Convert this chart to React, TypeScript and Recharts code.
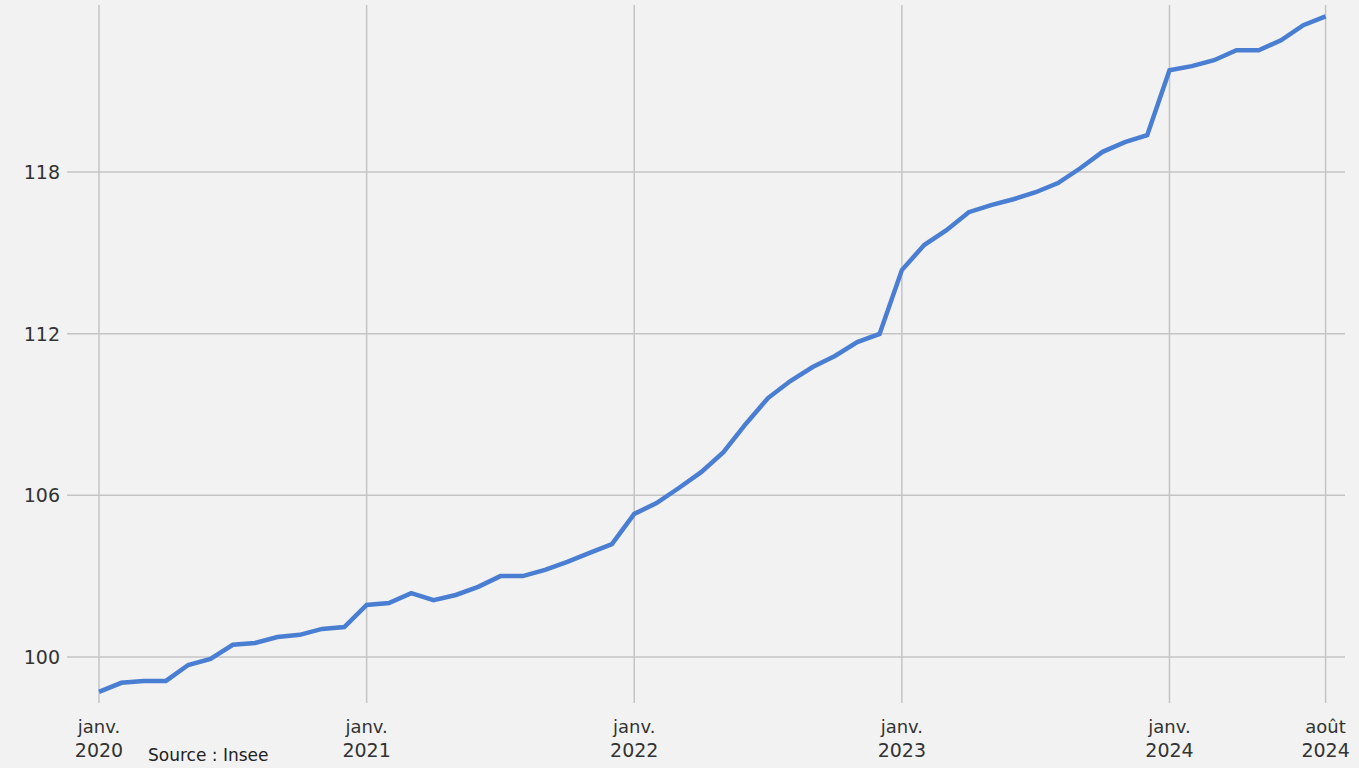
import React from "react";
import { LineChart, Line, XAxis, YAxis, CartesianGrid } from "recharts";

const months: string[] = [
  "2020-01","2020-02","2020-03","2020-04","2020-05","2020-06","2020-07","2020-08","2020-09","2020-10","2020-11","2020-12",
  "2021-01","2021-02","2021-03","2021-04","2021-05","2021-06","2021-07","2021-08","2021-09","2021-10","2021-11","2021-12",
  "2022-01","2022-02","2022-03","2022-04","2022-05","2022-06","2022-07","2022-08","2022-09","2022-10","2022-11","2022-12",
  "2023-01","2023-02","2023-03","2023-04","2023-05","2023-06","2023-07","2023-08","2023-09","2023-10","2023-11","2023-12",
  "2024-01","2024-02","2024-03","2024-04","2024-05","2024-06","2024-07","2024-08",
];

const indexValues: number[] = [
  98.70, 99.04, 99.11, 99.11, 99.70, 99.93, 100.45, 100.52, 100.74, 100.82, 101.04, 101.11,
  101.93, 102.00, 102.37, 102.11, 102.30, 102.60, 103.00, 103.00, 103.23, 103.53, 103.86, 104.19,
  105.31, 105.71, 106.27, 106.86, 107.60, 108.65, 109.61, 110.24, 110.76, 111.17, 111.69, 111.99,
  114.36, 115.29, 115.84, 116.51, 116.77, 116.99, 117.25, 117.59, 118.14, 118.75, 119.11, 119.37,
  121.78, 121.93, 122.15, 122.52, 122.52, 122.89, 123.45, 123.78,
];

const xTickIndexes: number[] = [0, 12, 24, 36, 48, 55];
const xTickLabels: string[][] = [
  ["janv.", "2020"],
  ["janv.", "2021"],
  ["janv.", "2022"],
  ["janv.", "2023"],
  ["janv.", "2024"],
  ["août", "2024"],
];
const yTicks: number[] = [100, 106, 112, 118];

const data = months.map((m, i) => ({ i, month: m, value: indexValues[i] }));

const FONT = "'DejaVu Sans', 'Open Sans', sans-serif";

const XTick = (props: any) => {
  const { x, payload } = props;
  const k = xTickIndexes.indexOf(payload.value);
  const lines = k >= 0 ? xTickLabels[k] : ["", ""];
  return (
    <g>
      <text x={x} y={733} textAnchor="middle" fontFamily={FONT} fontSize={18} fill="#333">
        {lines[0]}
      </text>
      <text x={x} y={757} textAnchor="middle" fontFamily={FONT} fontSize={19} fill="#333">
        {lines[1]}
      </text>
    </g>
  );
};

const YTick = (props: any) => {
  const { y, payload } = props;
  return (
    <text x={60} y={y + 7} textAnchor="end" fontFamily={FONT} fontSize={19} fill="#333">
      {payload.value}
    </text>
  );
};

export default function App() {
  return (
    <div style={{ position: "absolute", left: 0, top: 0, width: 1359, height: 768, overflow: "hidden", background: "#f2f2f2" }}>
      <LineChart
        width={1359}
        height={768}
        data={data}
        margin={{ top: 5, right: 14, bottom: 0, left: 0 }}
      >
        <CartesianGrid stroke="#c4c4c4" strokeWidth={1.5} verticalValues={xTickIndexes} horizontalValues={yTicks} />
        <XAxis
          dataKey="i"
          type="number"
          domain={[-1.435, 55.87]}
          ticks={xTickIndexes}
          height={65}
          axisLine={false}
          tickLine={false}
          tick={<XTick />}
          interval={0}
          allowDataOverflow
        />
        <YAxis
          type="number"
          domain={[98.29, 124.2]}
          ticks={yTicks}
          width={67}
          axisLine={false}
          tickLine={false}
          tick={<YTick />}
          allowDataOverflow
        />
        <Line
          type="linear"
          dataKey="value"
          stroke="#4a7ed2"
          strokeWidth={4.5}
          dot={false}
          isAnimationActive={false}
        />
      </LineChart>
      <div
        style={{
          position: "absolute",
          left: 148,
          top: 745,
          fontFamily: FONT,
          fontSize: 17,
          lineHeight: "20px",
          color: "#222",
          whiteSpace: "nowrap",
        }}
      >
        Source : Insee
      </div>
    </div>
  );
}
